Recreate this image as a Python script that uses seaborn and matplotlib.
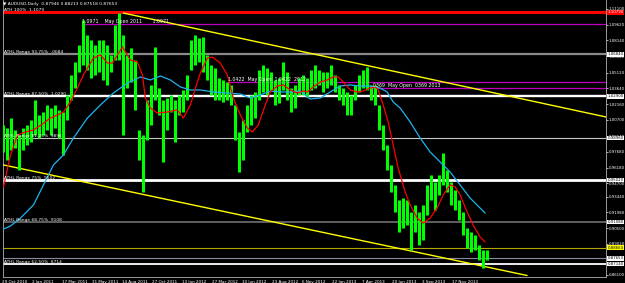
import numpy as np
import pandas as pd
import matplotlib
matplotlib.use("Agg")
import matplotlib.pyplot as plt
import matplotlib.transforms as mtransforms
import seaborn as sns

# ---------------- data ----------------
# candle samples: one sample every 4 chart columns, high / low prices
bar_high = [1.0020, 0.9992, 1.0085, 0.9973, 0.9926, 0.9992, 1.0020, 1.0067, 1.0255, 1.0114,
            1.0142, 1.0208, 1.0179, 1.0208, 1.0161, 1.0142, 1.0302, 1.0490, 1.0612, 1.0772,
            1.1007, 1.0866, 1.0819, 1.0772, 1.0819, 1.0819, 1.0772, 1.0678, 1.0960, 1.1072,
            1.0866, 1.0678, 1.0743, 1.0631, 0.9973, 0.9926, 1.0255, 1.0396, 1.0753, 1.0367,
            1.0255, 1.0274, 1.0302, 1.0255, 1.0302, 1.0349, 1.0490, 1.0819, 1.0866, 1.0837,
            1.0847, 1.0678, 1.0584, 1.0555, 1.0461, 1.0443, 1.0424, 1.0396, 1.0208, 0.9954,
            1.0067, 1.0208, 1.0302, 1.0330, 1.0537, 1.0584, 1.0555, 1.0518, 1.0443, 1.0461,
            1.0612, 1.0518, 1.0367, 1.0396, 1.0461, 1.0490, 1.0461, 1.0537, 1.0584, 1.0537,
            1.0518, 1.0518, 1.0584, 1.0490, 1.0396, 1.0367, 1.0330, 1.0302, 1.0396, 1.0490,
            1.0537, 1.0565, 1.0396, 1.0396, 1.0208, 1.0020, 0.9832, 0.9644, 0.9456, 0.9315,
            0.9333, 0.9315, 0.9202, 0.9268, 0.9202, 0.9268, 0.9456, 0.9550, 0.9484, 0.9550,
            0.9756, 0.9597, 0.9484, 0.9409, 0.9315, 0.9202, 0.9052, 0.9014, 0.8986, 0.8892,
            0.8845, 0.8845]
bar_low = [0.9766, 0.9691, 0.9785, 0.9803, 0.9597, 0.9785, 0.9832, 0.9860, 0.9926, 0.9898,
           0.9926, 0.9973, 0.9926, 0.9992, 0.9898, 0.9738, 1.0067, 1.0255, 1.0367, 1.0518,
           1.0584, 1.0537, 1.0461, 1.0490, 1.0518, 1.0443, 1.0396, 1.0518, 1.0631, 1.0631,
           0.9926, 1.0367, 1.0424, 1.0161, 0.9691, 0.9390, 0.9879, 1.0020, 1.0255, 1.0114,
           0.9672, 0.9973, 1.0142, 0.9860, 1.0114, 1.0142, 1.0255, 1.0537, 1.0584, 1.0612,
           1.0518, 1.0443, 1.0302, 1.0255, 1.0255, 1.0236, 1.0255, 1.0208, 0.9879, 0.9578,
           0.9691, 0.9954, 1.0020, 1.0085, 1.0255, 1.0330, 1.0302, 1.0349, 1.0208, 1.0226,
           1.0349, 1.0255, 1.0142, 1.0179, 1.0302, 1.0302, 1.0283, 1.0349, 1.0367, 1.0396,
           1.0330, 1.0367, 1.0396, 1.0330, 1.0255, 1.0208, 1.0114, 1.0114, 1.0255, 1.0330,
           1.0367, 1.0349, 1.0255, 1.0208, 0.9973, 0.9785, 0.9597, 0.9390, 0.9202, 0.9014,
           0.9052, 0.9080, 0.8845, 0.9014, 0.8892, 0.8939, 0.9174, 0.9315, 0.9221, 0.9362,
           0.9456, 0.9390, 0.9268, 0.9221, 0.9127, 0.8986, 0.8863, 0.8826, 0.8845, 0.8751,
           0.8677, 0.8751]

# fast (red) moving average: chart column, price
ma_fast_x = [3, 10, 17, 25, 33, 42, 50, 57, 63, 70, 77, 83, 87, 93, 100, 107, 112, 122, 130, 137,
             142, 145, 150, 157, 167, 177, 183, 190, 197, 200, 207, 212, 220, 227, 233, 240, 247,
             252, 258, 265, 270, 277, 283, 290, 297, 303, 307, 313, 320, 327, 333, 338, 343, 350,
             357, 363, 370, 375, 378, 383, 388, 393, 398, 405, 410, 417, 423, 430, 437, 443, 450,
             455, 460, 467, 473, 480, 485]
ma_fast = [0.9437, 0.9738, 0.9926, 0.9954, 0.9973, 1.0029, 1.0085, 1.0114, 1.0142, 1.0236, 1.0367,
           1.0490, 1.0555, 1.0649, 1.0678, 1.0602, 1.0602, 1.0753, 1.0631, 1.0612, 1.0490, 1.0273,
           1.0179, 1.0132, 1.0142, 1.0161, 1.0085, 1.0208, 1.0424, 1.0508, 1.0649, 1.0659, 1.0602,
           1.0490, 1.0273, 1.0114, 0.9991, 0.9954, 1.0020, 1.0208, 1.0330, 1.0386, 1.0396, 1.0349,
           1.0320, 1.0339, 1.0330, 1.0377, 1.0424, 1.0443, 1.0471, 1.0471, 1.0424, 1.0349, 1.0330,
           1.0339, 1.0367, 1.0377, 1.0349, 1.0208, 1.0048, 0.9832, 0.9615, 0.9390, 0.9268, 0.9145,
           0.9098, 0.9145, 0.9239, 0.9362, 0.9456, 0.9437, 0.9362, 0.9202, 0.9080, 0.8967, 0.8920]

# slow (blue) moving average
ma_slow_x = [3, 10, 20, 33, 43, 53, 63, 73, 87, 100, 113, 127, 140, 150, 160, 170, 180, 190, 200,
             213, 227, 240, 250, 260, 270, 280, 290, 300, 310, 320, 330, 340, 350, 360, 370, 380,
             387, 393, 400, 410, 420, 430, 440, 450, 460, 470, 480, 485]
ma_slow = [0.9042, 0.9070, 0.9145, 0.9268, 0.9456, 0.9644, 0.9738, 0.9897, 1.0085, 1.0208, 1.0320,
           1.0414, 1.0471, 1.0443, 1.0480, 1.0443, 1.0377, 1.0349, 1.0349, 1.0330, 1.0320, 1.0311,
           1.0273, 1.0302, 1.0339, 1.0330, 1.0330, 1.0339, 1.0264, 1.0273, 1.0330, 1.0386, 1.0396,
           1.0386, 1.0386, 1.0367, 1.0330, 1.0236, 1.0179, 1.0048, 0.9897, 0.9766, 0.9672, 0.9578,
           0.9456, 0.9333, 0.9239, 0.9192]

# trend lines (chart column, price)
trend_upper_x = [123, 606]
trend_upper = [1.1072, 1.0095]
trend_lower_x = [3, 527]
trend_lower = [0.9644, 0.8605]

# horizontal levels
level_prices = [1.1079, 1.0684, 1.0290, 0.9896, 0.9502, 0.9108, 0.88664, 0.87653, 0.8714]
level_box_text = ["1.10790", "1.06840", "1.02900", "0.98960", "0.95020", "0.91080", "0.88664",
                  "0.87653", "0.87140"]
level_names = ["ATH 100%  1.1079", "ATHL Range 93.75%  .0684", "ATHL Range 87.50%  1.0290",
               "ATHL Range 81.25%  9896", "ATHL Range 75%  9502", "ATHL Range 68.75%  9108",
               "", "", "ATHL Range 62.50%  8714"]
open_prices = [1.0971, 1.0422, 1.0369]
open_start = [82, 228, 373]
open_names = ["1.0971    May Open 2011       1.0971", "1.0422  May Open  1.0422  2012",
              "0369  May Open  0369 2013"]

price_ticks = [1.11100, 1.09620, 1.08140, 1.06640, 1.05120, 1.03640, 1.02160, 1.00700, 0.99140,
               0.97680, 0.96180, 0.94700, 0.93440, 0.91980, 0.90500, 0.89020, 0.87540, 0.86100]
date_ticks = [2, 32, 62, 92, 122, 152, 182, 212, 242, 272, 302, 332, 362, 392, 422, 452]
date_labels = ["29 Oct 2010", "2 Jan 2011", "17 Mar 2011", "31 May 2011", "14 Aug 2011",
               "27 Oct 2011", "13 Jan 2012", "27 Mar 2012", "10 Jun 2012", "23 Aug 2012",
               "6 Nov 2012", "22 Jan 2013", "7 Apr 2013", "20 Jun 2013", "3 Sep 2013",
               "17 Nov 2013"]

# ---------------- drawing ----------------
sns.set_theme(style="dark", rc={"axes.facecolor": "black", "figure.facecolor": "black",
                                "axes.edgecolor": "#b0b0b0", "text.color": "white",
                                "xtick.color": "white", "ytick.color": "white"})
plt.rcParams["font.family"] = ["DejaVu Sans"]

W, H = 625, 283
fig = plt.figure(figsize=(W / 100, H / 100), dpi=100)
ax = fig.add_axes([2.5 / W, 6 / H, (606 - 2.5) / W, 277 / H])
ax.set_facecolor("black")
ax.set_xlim(2.5, 606)
ax.set_ylim(0.85908, 1.11946)

bar_pos = 3 + 4 * np.arange(len(bar_high))
candles = pd.DataFrame({"pos": bar_pos, "high": bar_high, "low": bar_low})

level_styles = [("#ff0000", 2.2), ("#8a8a8a", 1.6), ("#ffffff", 1.7), ("#c8c8c8", 0.8),
                ("#ffffff", 2.0), ("#707070", 1.2), ("#b0a800", 0.8), ("#8888a0", 0.8),
                ("#ffffff", 1.3)]
for p, (c, lw) in zip(level_prices, level_styles):
    ax.axhline(p, color=c, lw=lw, zorder=2)
for p, x0 in zip(open_prices, open_start):
    ax.plot([x0, 606], [p, p], color="#c000c0", lw=0.9, zorder=2)

# trend lines
sns.lineplot(x=trend_upper_x, y=trend_upper, ax=ax, color="#ffff00", lw=1.0, zorder=3)
sns.lineplot(x=trend_lower_x, y=trend_lower, ax=ax, color="#ffff00", lw=1.0, zorder=3)

# candles
ax.vlines(candles["pos"], candles["low"], candles["high"], color="#00ff00", lw=2.2, zorder=4)

# moving averages
sns.lineplot(x=ma_slow_x, y=ma_slow, ax=ax, color="#1eb4f0", lw=0.9, zorder=5, sort=False)
sns.lineplot(x=ma_fast_x, y=ma_fast, ax=ax, color="#ff0000", lw=0.9, zorder=5, sort=False)

# level names
for p, name in zip(level_prices, level_names):
    if name:
        ax.text(4, p, name, fontsize=3.2, color="white", va="bottom", ha="left", zorder=6)
for p, x0, name in zip(open_prices, open_start, open_names):
    ax.text(x0, p, name, fontsize=3.4, color="white", va="bottom", ha="left", zorder=6)

# right price labels boxes
trans = mtransforms.blended_transform_factory(ax.transAxes, ax.transData)
box_bg = ["#ff0000", "white", "white", "white", "white", "white", "#ffff00", "white", "white"]
box_fg = ["white", "black", "black", "black", "black", "black", "black", "black", "black"]
for p, t, bg, fg in zip(level_prices, level_box_text, box_bg, box_fg):
    ax.text(1.003, p, t, transform=trans, fontsize=2.8, color=fg, va="center", ha="left",
            clip_on=False, zorder=7,
            bbox=dict(boxstyle="square,pad=0.08", fc=bg, ec="none"))

ax.yaxis.tick_right()
ax.set_yticks(price_ticks)
ax.set_yticklabels([f"{v:.5f}" for v in price_ticks])
ax.tick_params(axis="y", length=1.5, width=0.5, labelsize=2.8, pad=0.5, colors="white")
ax.set_xticks(date_ticks)
ax.set_xticklabels(date_labels)
ax.tick_params(axis="x", length=2, width=0.5, labelsize=3.0, pad=0.5, colors="white")
for lbl in ax.get_xticklabels():
    lbl.set_ha("left")
ax.set_xlabel("")
ax.set_ylabel("")
ax.grid(False)
for s in ["left", "right", "bottom"]:
    ax.spines[s].set_color("#b0b0b0")
    ax.spines[s].set_linewidth(0.6)
ax.spines["top"].set_visible(False)

fig.text(3 / W, 1 - 4.5 / H, "\u25bc AUDUSD,Daily  0.87946 0.88213 0.87518 0.87653",
         fontsize=3.2, color="white", va="center", ha="left")

fig.savefig("out.png", dpi=100, facecolor="black")
